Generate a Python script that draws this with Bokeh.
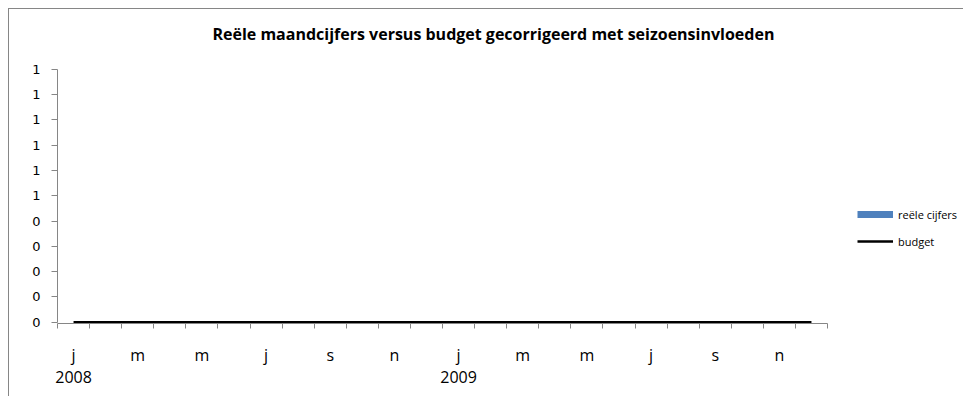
from bokeh.plotting import figure
from bokeh.models import (FixedTicker, LinearAxis, Legend, LegendItem, Label, Range1d, ColumnDataSource)
from bokeh.embed import file_html
from bokeh.resources import INLINE

# ---- data ----
months = ["jan", "feb", "mrt", "apr", "mei", "jun", "jul", "aug", "sep", "okt", "nov", "dec",
          "jan", "feb", "mrt", "apr", "mei", "jun", "jul", "aug", "sep", "okt", "nov", "dec"]
years = ["2008", "2008", "2008", "2008", "2008", "2008", "2008", "2008", "2008", "2008", "2008", "2008",
         "2009", "2009", "2009", "2009", "2009", "2009", "2009", "2009", "2009", "2009", "2009", "2009"]
reele_cijfers = [0, 0, 0, 0, 0, 0, 0, 0, 0, 0, 0, 0,
                 0, 0, 0, 0, 0, 0, 0, 0, 0, 0, 0, 0]
budget = [0, 0, 0, 0, 0, 0, 0, 0, 0, 0, 0, 0,
          0, 0, 0, 0, 0, 0, 0, 0, 0, 0, 0, 0]
month_tick_labels = ["j", "m", "m", "j", "s", "n", "j", "m", "m", "j", "s", "n"]
year_tick_labels = ["2008", "2009"]
y_ticks = [0.0, 0.1, 0.2, 0.3, 0.4, 0.5, 0.6, 0.7, 0.8, 0.9, 1.0]
y_tick_labels = ["0", "0", "0", "0", "0", "1", "1", "1", "1", "1", "1"]
title_text = "Reële maandcijfers versus budget gecorrigeerd  met seizoensinvloeden"

n = len(months)
xpos = [i + 0.5 for i in range(n)]
src = ColumnDataSource(dict(x=xpos, month=months, year=years, reele=reele_cijfers, budget=budget))

GRAY = "#868686"
CAL = "Open Sans"

# layout geometry (pixels)
W, H = 955, 388
LEFT, BOTTOM = 48, 74
PLOT_W, PLOT_H = 770, 253          # size of the 0..n x 0..1 data area
frame_w = W - LEFT
frame_h = H - BOTTOM
y0 = -0.005
x_end = n * frame_w / PLOT_W
y_end = y0 + frame_h / PLOT_H

p = figure(width=W, height=H, output_backend="svg", toolbar_location=None,
           x_range=Range1d(0, x_end), y_range=Range1d(y0, y_end),
           x_axis_type=None, y_axis_type=None)
p.styles = {"border-left": "1px solid #868686", "border-top": "1px solid #868686",
            "margin-left": "8px", "margin-top": "8px"}
p.min_border_left = LEFT
p.min_border_top = 0
p.min_border_right = 0
p.min_border_bottom = BOTTOM
p.outline_line_color = None
p.background_fill_color = "white"
p.border_fill_color = "white"
p.xgrid.visible = False
p.ygrid.visible = False

bars = p.vbar(x="x", top="reele", width=0.6, source=src, fill_color="#4F81BD", line_color=None)
line = p.line(x="x", y="budget", source=src, line_color="black", line_width=2.5)

# y axis
yax = LinearAxis(ticker=FixedTicker(ticks=y_ticks), bounds=(0, 1))
yax.major_label_overrides = {t: l for t, l in zip(y_ticks, y_tick_labels)}
yax.axis_line_color = GRAY
yax.major_tick_line_color = GRAY
yax.major_tick_in = 0
yax.major_tick_out = 6
yax.minor_tick_line_color = None
yax.major_label_text_font = "DejaVu Sans"
yax.major_label_text_font_size = "13px"
yax.major_label_text_color = "black"
yax.major_label_standoff = 11
p.add_layout(yax, "left")

# x axis: month labels
label_idx = list(range(0, n, 2))
month_ticks = [xpos[i] for i in label_idx]
xax = LinearAxis(ticker=FixedTicker(ticks=month_ticks, minor_ticks=list(range(0, n + 1))),
                 bounds=(0, n))
xax.major_label_overrides = {t: l for t, l in zip(month_ticks, month_tick_labels)}
xax.axis_line_color = GRAY
xax.major_tick_line_color = None
xax.major_tick_in = 0
xax.major_tick_out = 0
xax.minor_tick_line_color = GRAY
xax.minor_tick_in = 0
xax.minor_tick_out = 5
xax.major_label_text_font = CAL
xax.major_label_text_font_size = "16px"
xax.major_label_text_color = "black"
xax.major_label_standoff = 15
p.add_layout(xax, "below")

# x axis: year labels
year_ticks = [xpos[0], xpos[12]]
yrax = LinearAxis(ticker=FixedTicker(ticks=year_ticks, minor_ticks=[]), bounds=(0, n))
yrax.major_label_overrides = {t: l for t, l in zip(year_ticks, year_tick_labels)}
yrax.axis_line_color = None
yrax.major_tick_line_color = None
yrax.minor_tick_line_color = None
yrax.major_tick_in = 0
yrax.major_tick_out = 0
yrax.major_label_text_font = CAL
yrax.major_label_text_font_size = "16px"
yrax.major_label_text_color = "black"
yrax.major_label_standoff = 2
p.add_layout(yrax, "below")

# title (inside the widened frame)
title = Label(x=438, y=290, x_units="screen", y_units="screen", text=title_text,
              text_font=CAL, text_font_style="bold", text_font_size="16px",
              text_align="center", text_baseline="middle", text_color="black")
p.add_layout(title)

# legend (bar shown via proxy swatch)
proxy = p.line(x=[float("nan")], y=[float("nan")], line_color="#4F81BD", line_width=7)
legend = Legend(items=[LegendItem(label="reële cijfers", renderers=[proxy]),
                       LegendItem(label="budget", renderers=[line])],
                location=(800, 72))
legend.border_line_color = None
legend.background_fill_alpha = 0
legend.padding = 0
legend.margin = 0
legend.spacing = 7
legend.glyph_width = 36
legend.glyph_height = 20
legend.label_height = 20
legend.label_standoff = 5
legend.label_text_font = CAL
legend.label_text_font_size = "11px"
legend.label_text_color = "black"
p.add_layout(legend)

open("out.html", "w").write(file_html(p, INLINE))
